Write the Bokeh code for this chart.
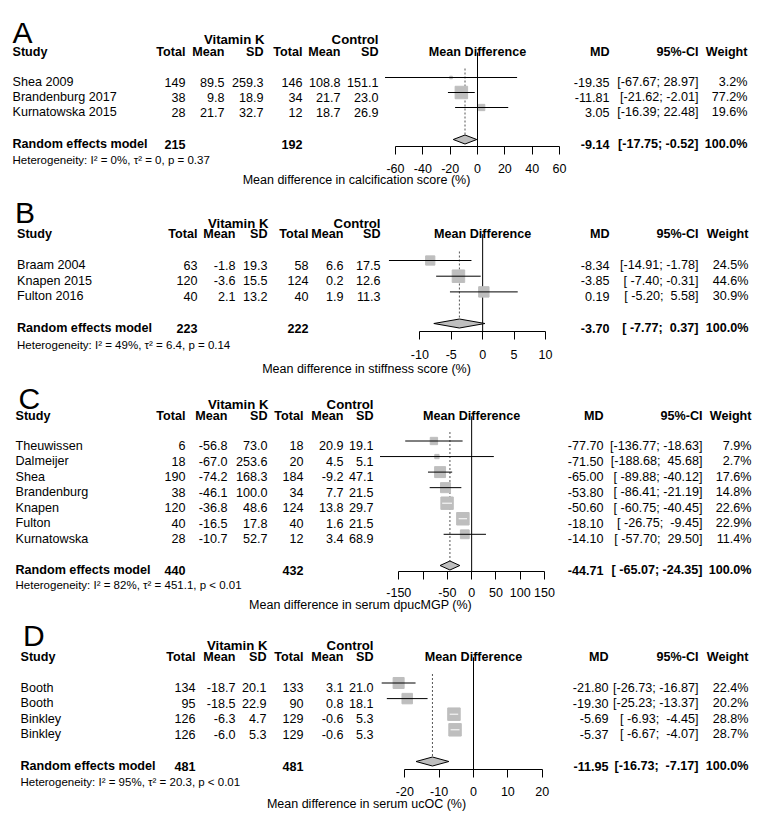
import math
from bokeh.plotting import figure
from bokeh.models import Range1d, LinearAxis, FixedTicker, ColumnDataSource
from bokeh.core.properties import value
from bokeh.embed import file_html
from bokeh.resources import INLINE

FONT = "Liberation Sans"
GREY = "#bebebe"
NB = "\u00a0"

# ---------------- data ----------------
# Panel A: calcification score
A_study = ["Shea 2009", "Brandenburg 2017", "Kurnatowska 2015"]
A_e_total = [149, 38, 28]
A_e_mean = [89.5, 9.8, 21.7]
A_e_sd = [259.3, 18.9, 32.7]
A_c_total = [146, 34, 12]
A_c_mean = [108.8, 21.7, 18.7]
A_c_sd = [151.1, 23.0, 26.9]
A_md = [-19.35, -11.81, 3.05]
A_lo = [-67.67, -21.62, -16.39]
A_hi = [28.97, -2.01, 22.48]
A_weight = [3.2, 77.2, 19.6]
A_summary = [-9.14, -17.75, -0.52]
A_n = [215, 192]
A_het = "Heterogeneity: I² = 0%, τ² = 0, p = 0.37"
A_ticks = [-60, -40, -20, 0, 20, 40, 60]
A_hidden = []
A_xlabel = "Mean difference in calcification score (%)"

# Panel B: stiffness score
B_study = ["Braam 2004", "Knapen 2015", "Fulton 2016"]
B_e_total = [63, 120, 40]
B_e_mean = [-1.8, -3.6, 2.1]
B_e_sd = [19.3, 15.5, 13.2]
B_c_total = [58, 124, 40]
B_c_mean = [6.6, 0.2, 1.9]
B_c_sd = [17.5, 12.6, 11.3]
B_md = [-8.34, -3.85, 0.19]
B_lo = [-14.91, -7.40, -5.20]
B_hi = [-1.78, -0.31, 5.58]
B_weight = [24.5, 44.6, 30.9]
B_summary = [-3.70, -7.77, 0.37]
B_n = [223, 222]
B_het = "Heterogeneity: I² = 49%, τ² = 6.4, p = 0.14"
B_ticks = [-10, -5, 0, 5, 10]
B_hidden = []
B_xlabel = "Mean difference in stiffness score (%)"

# Panel C: serum dpucMGP
C_study = ["Theuwissen", "Dalmeijer", "Shea", "Brandenburg", "Knapen", "Fulton", "Kurnatowska"]
C_e_total = [6, 18, 190, 38, 120, 40, 28]
C_e_mean = [-56.8, -67.0, -74.2, -46.1, -36.8, -16.5, -10.7]
C_e_sd = [73.0, 253.6, 168.3, 100.0, 48.6, 17.8, 52.7]
C_c_total = [18, 20, 184, 34, 124, 40, 12]
C_c_mean = [20.9, 4.5, -9.2, 7.7, 13.8, 1.6, 3.4]
C_c_sd = [19.1, 5.1, 47.1, 21.5, 29.7, 21.5, 68.9]
C_md = [-77.70, -71.50, -65.00, -53.80, -50.60, -18.10, -14.10]
C_lo = [-136.77, -188.68, -89.88, -86.41, -60.75, -26.75, -57.70]
C_hi = [-18.63, 45.68, -40.12, -21.19, -40.45, -9.45, 29.50]
C_weight = [7.9, 2.7, 17.6, 14.8, 22.6, 22.9, 11.4]
C_summary = [-44.71, -65.07, -24.35]
C_n = [440, 432]
C_het = "Heterogeneity: I² = 82%, τ² = 451.1, p < 0.01"
C_ticks = [-150, -100, -50, 0, 50, 100, 150]
C_hidden = [-100]
C_xlabel = "Mean difference in serum dpucMGP (%)"

# Panel D: serum ucOC
D_study = ["Booth", "Booth", "Binkley", "Binkley"]
D_e_total = [134, 95, 126, 126]
D_e_mean = [-18.7, -18.5, -6.3, -6.0]
D_e_sd = [20.1, 22.9, 4.7, 5.3]
D_c_total = [133, 90, 129, 129]
D_c_mean = [3.1, 0.8, -0.6, -0.6]
D_c_sd = [21.0, 18.1, 5.3, 5.3]
D_md = [-21.80, -19.30, -5.69, -5.37]
D_lo = [-26.73, -25.23, -6.93, -6.67]
D_hi = [-16.87, -13.37, -4.45, -4.07]
D_weight = [22.4, 20.2, 28.8, 28.7]
D_summary = [-11.95, -16.73, -7.17]
D_n = [481, 481]
D_het = "Heterogeneity: I² = 95%, τ² = 20.3, p < 0.01"
D_ticks = [-20, -10, 0, 10, 20]
D_hidden = []
D_xlabel = "Mean difference in serum ucOC (%)"

col_heads = ["Total", "Mean", "SD", "Total", "Mean", "SD"]
group_labels = ["Vitamin K", "Control"]
right_heads = ["MD", "95%-CI", "Weight"]

PANELS = {
    "A": dict(study=A_study, et=A_e_total, em=A_e_mean, es=A_e_sd, ct=A_c_total, cm=A_c_mean, cs=A_c_sd,
              md=A_md, lo=A_lo, hi=A_hi, w=A_weight, s=A_summary, n=A_n, het=A_het, ticks=A_ticks,
              hidden=A_hidden, xlabel=A_xlabel),
    "B": dict(study=B_study, et=B_e_total, em=B_e_mean, es=B_e_sd, ct=B_c_total, cm=B_c_mean, cs=B_c_sd,
              md=B_md, lo=B_lo, hi=B_hi, w=B_weight, s=B_summary, n=B_n, het=B_het, ticks=B_ticks,
              hidden=B_hidden, xlabel=B_xlabel),
    "C": dict(study=C_study, et=C_e_total, em=C_e_mean, es=C_e_sd, ct=C_c_total, cm=C_c_mean, cs=C_c_sd,
              md=C_md, lo=C_lo, hi=C_hi, w=C_weight, s=C_summary, n=C_n, het=C_het, ticks=C_ticks,
              hidden=C_hidden, xlabel=C_xlabel),
    "D": dict(study=D_study, et=D_e_total, em=D_e_mean, es=D_e_sd, ct=D_c_total, cm=D_c_mean, cs=D_c_sd,
              md=D_md, lo=D_lo, hi=D_hi, w=D_weight, s=D_summary, n=D_n, het=D_het, ticks=D_ticks,
              hidden=D_hidden, xlabel=D_xlabel),
}

# ---------------- layout (page pixel positions) ----------------
W, H = 761, 818
LAYOUT = {
    "A": dict(tx=12, lx=12, lb=32, gy=34, hy=47, r0=77, dr=15, sy=139, ey=155, ay=145.5, so=10,
              xl=(356, 175), cols=[185, 224, 263, 302, 340, 378], right=[609, 698, 747], px=(395, 559)),
    "B": dict(tx=16.5, lx=14.5, lb=212, gy=218, hy=228.5, r0=260, dr=15.7, sy=323, ey=340, ay=330.7, so=11,
              xl=(366, 364), cols=[197, 235, 267, 308, 343, 380], right=[609, 698, 748], px=(419.3, 545)),
    "C": dict(tx=15, lx=18, lb=398, gy=399.5, hy=410.7, r0=440.5, dr=15.55, sy=565, ey=580, ay=571, so=8,
              xl=(360, 600), cols=[185, 227, 267, 303, 343, 373], right=[603, 702, 751], px=(398.3, 544)),
    "D": dict(tx=20, lx=22.5, lb=635, gy=640, hy=651.7, r0=682.5, dr=15.6, sy=761, ey=777.7, ay=769, so=9,
              xl=(366, 799), cols=[195, 235, 266, 303, 343, 373], right=[608, 698, 748], px=(404.3, 541.7)),
}
SQ = 12.5
BODY = 12.6

p = figure(width=W, height=H, x_range=Range1d(0, W), y_range=Range1d(H, 0),
           output_backend="svg", toolbar_location=None, x_axis_type=None, y_axis_type=None,
           min_border=0)
p.outline_line_color = None
p.background_fill_color = "white"
p.border_fill_color = "white"

# extra ranges for each forest plot
extra = {}
for key, D in PANELS.items():
    L = LAYOUT[key]
    vmin, vmax = D["ticks"][0], D["ticks"][-1]
    pxmin, pxmax = L["px"]
    k = (pxmax - pxmin) / (vmax - vmin)
    L["k"] = k
    extra["f" + key] = Range1d(vmin - pxmin / k, vmax + (W - pxmax) / k)
p.extra_x_ranges = extra


def txt(xs, ys, texts, align="left", bold=False, size=BODY, off=None, rng=None):
    if off is None:
        off = 0.36 * size
    src = ColumnDataSource(dict(x=list(xs), y=[y + off for y in ys], t=list(texts)))
    kw = {}
    if rng:
        kw["x_range_name"] = rng
    p.text(x="x", y="y", text="t", source=src, text_align=align, text_baseline="alphabetic",
           text_font=value(FONT), text_font_size=value(f"{size}px"),
           text_font_style="bold" if bold else "normal", text_color="black", **kw)


def ci_strings(lo, hi, s):
    los = [f"{v:.2f}" for v in lo + [s[1]]]
    his = [f"{v:.2f}" for v in hi + [s[2]]]
    wl = max(map(len, los))
    wh = max(map(len, his))
    return [f"[{a.rjust(wl, NB)};{NB}{b.rjust(wh, NB)}]" for a, b in zip(los, his)]


for key, D in PANELS.items():
    L = LAYOUT[key]
    name = "f" + key
    n = len(D["study"])
    ys = [L["r0"] + i * L["dr"] for i in range(n)]
    cols = L["cols"]

    # panel letter
    txt([L["lx"]], [L["lb"]], [key], size=30, off=0)

    # group headers
    txt([cols[2] + 1, cols[5]], [L["gy"], L["gy"]], group_labels, align="right", bold=True, size=13.2)
    # column headers
    txt([L["tx"]], [L["hy"]], ["Study"], bold=True)
    txt(cols, [L["hy"]] * 6, col_heads, align="right", bold=True)
    txt(L["right"], [L["hy"]] * 3, right_heads, align="right", bold=True)
    txt([0], [L["hy"]], ["Mean Difference"], align="center", bold=True, rng=name)

    # study rows
    txt([L["tx"]] * n, ys, D["study"])
    columns = [
        [str(v) for v in D["et"]], [f"{v:.1f}" for v in D["em"]], [f"{v:.1f}" for v in D["es"]],
        [str(v) for v in D["ct"]], [f"{v:.1f}" for v in D["cm"]], [f"{v:.1f}" for v in D["cs"]],
    ]
    for cx, vals in zip(cols, columns):
        txt([cx] * n, ys, vals, align="right")
    cis = ci_strings(D["lo"], D["hi"], D["s"])
    txt([L["right"][0]] * n, ys, [f"{v:.2f}" for v in D["md"]], align="right")
    txt([L["right"][1]] * n, ys, cis[:n], align="right")
    txt([L["right"][2]] * n, ys, [f"{v:.1f}%" for v in D["w"]], align="right")

    # summary row
    sy = L["sy"]
    txt([L["tx"]], [sy], ["Random effects model"], bold=True)
    txt([cols[0], cols[3]], [sy, sy], [str(v) for v in D["n"]], align="right", bold=True)
    txt(L["right"], [sy] * 3, [f"{D['s'][0]:.2f}", cis[n], "100.0%"], align="right", bold=True)
    txt([L["tx"]], [L["ey"]], [D["het"]], size=11.5)

    # x label
    txt([L["xl"][0]], [L["xl"][1]], [D["xlabel"]], align="center", size=12.5)

    # forest: reference lines
    p.segment(x0=[0], y0=[L["hy"] + 5], x1=[0], y1=[L["ay"]], line_color="black", line_width=1,
              x_range_name=name)
    p.segment(x0=[D["s"][0]], y0=[ys[0] - 9], x1=[D["s"][0]], y1=[sy], line_color="#555555",
              line_width=1, line_dash="2 2", x_range_name=name)

    # squares
    wmax = max(D["w"])
    sides = [SQ * math.sqrt(w / wmax) for w in D["w"]]
    p.scatter(x=D["md"], y=ys, size=sides, marker="square", fill_color=GREY, line_color=GREY,
              x_range_name=name)
    # CI lines (white when entirely inside the square)
    inside = [(h - l) * L["k"] <= s for l, h, s in zip(D["lo"], D["hi"], sides)]
    for flag, color in ((False, "black"), (True, "white")):
        idx = [i for i in range(n) if inside[i] == flag]
        if idx:
            p.segment(x0=[D["lo"][i] for i in idx], y0=[ys[i] for i in idx],
                      x1=[D["hi"][i] for i in idx], y1=[ys[i] for i in idx],
                      line_color=color, line_width=1, x_range_name=name)

    # diamond
    m, lo, hi = D["s"]
    p.patch(x=[lo, m, hi, m], y=[sy, sy - 4.5, sy, sy + 4.5], fill_color=GREY, line_color="black",
            line_width=1, x_range_name=name)

    # axis
    ax = LinearAxis(x_range_name=name, fixed_location=L["ay"], bounds=(D["ticks"][0], D["ticks"][-1]),
                    ticker=FixedTicker(ticks=D["ticks"], minor_ticks=[]))
    ax.major_tick_out = 8
    ax.major_tick_in = 0
    ax.minor_tick_out = 0
    ax.minor_tick_in = 0
    ax.major_label_standoff = L["so"]
    ax.major_label_text_font = FONT
    ax.major_label_text_font_size = "12.5px"
    ax.major_label_text_color = "black"
    ax.axis_line_color = "black"
    ax.major_tick_line_color = "black"
    ax.major_label_overrides = {t: ("" if t in D["hidden"] else str(t)) for t in D["ticks"]}
    p.add_layout(ax, "below")

open("out.html", "w").write(file_html(p, INLINE))
